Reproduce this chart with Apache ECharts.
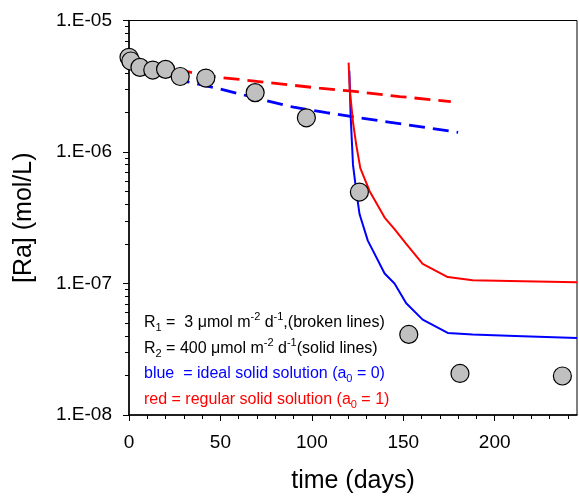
<!DOCTYPE html>
<html>
<head>
<meta charset="utf-8">
<script src="https://cdn.jsdelivr.net/npm/echarts@6/dist/echarts.min.js"></script>
<style>
html,body{margin:0;padding:0;background:#fff;}
#chart{width:579px;height:499px;}
</style>
</head>
<body>
<div id="chart"></div>
<script>
// ---- Data ----
const obsDays = [0, 1, 6, 13, 20, 28, 42, 69, 97, 126, 153, 181, 237];
const obsRa = [5.25e-6, 4.92e-6, 4.4e-6, 4.2e-6, 4.25e-6, 3.75e-6, 3.65e-6, 2.83e-6, 1.82e-6, 4.96e-7, 4.1e-8, 2.07e-8, 1.98e-8];

const redDashDays = [0, 34, 50, 79, 104, 122, 148, 176];
const redDashRa = [4.9e-6, 4.03e-6, 3.69e-6, 3.34e-6, 3.06e-6, 2.90e-6, 2.64e-6, 2.42e-6];

const blueDashDays = [0, 32, 50, 75, 90, 108, 126, 142, 180];
const blueDashRa = [4.9e-6, 3.42e-6, 3.01e-6, 2.46e-6, 2.19e-6, 1.99e-6, 1.82e-6, 1.69e-6, 1.41e-6];

const redSolidDays = [120.1, 120.7, 122.5, 124.3, 126.5, 131.6, 139.8, 145.2, 151.6, 160.6, 174.3, 187.9, 215.2, 245];
const redSolidRa = [4.78e-6, 3.01e-6, 1.69e-6, 1.13e-6, 7.54e-7, 5.03e-7, 3.17e-7, 2.59e-7, 2.0e-7, 1.41e-7, 1.12e-7, 1.06e-7, 1.04e-7, 1.02e-7];

const blueSolidDays = [120.5, 121.2, 122.5, 124.3, 126.1, 130.6, 139.8, 145.2, 151.6, 160.6, 174.3, 187.9, 215.2, 245];
const blueSolidRa = [4.14e-6, 1.90e-6, 7.98e-7, 5.03e-7, 3.36e-7, 2.12e-7, 1.19e-7, 1.0e-7, 7.08e-8, 5.31e-8, 4.21e-8, 4.09e-8, 3.97e-8, 3.85e-8];

const xMajorTicks = [0, 50, 100, 150, 200];
const xMinorTicks = [10, 20, 30, 40, 60, 70, 80, 90, 110, 120, 130, 140, 160, 170, 180, 190, 210, 220, 230, 240];
const yDecades = [-8, -7, -6];
const yMinorMultipliers = [2, 3, 4, 5, 6, 7, 8, 9];

const legendLines = [
  {text: '{a|R}{s|1}{a| =  3 μmol m}{p|-2}{a| d}{p|-1}{a|,(broken lines)}', color: '#000000'},
  {text: '{a|R}{s|2}{a| = 400 μmol m}{p|-2}{a| d}{p|-1}{a|(solid lines)}', color: '#000000'},
  {text: '{a|blue  = ideal solid solution (a}{s|0}{a| = 0)}', color: '#0000ff'},
  {text: '{a|red = regular solid solution (a}{s|0}{a| = 1)}', color: '#ff0000'}
];

// ---- Build ----
const FONT = "'Liberation Sans', Arial, sans-serif";
const pairs = (xs, ys) => xs.map((x, i) => [x, ys[i]]);
const yMinorLog = [];
yDecades.forEach(d => yMinorMultipliers.forEach(m => yMinorLog.push(Math.log10(m * Math.pow(10, d)))));

function fmtExp(v) {
  const e = Math.round(Math.log10(v));
  return '1.E' + (e < 0 ? '-' : '+') + String(Math.abs(e)).padStart(2, '0');
}

function richFor(color) {
  return {
    a: {fontSize: 16, fontFamily: FONT, lineHeight: 22, verticalAlign: 'middle', fill: color},
    s: {fontSize: 11, fontFamily: FONT, lineHeight: 11, verticalAlign: 'bottom', fill: color},
    p: {fontSize: 11, fontFamily: FONT, lineHeight: 11, verticalAlign: 'top', fill: color}
  };
}
const legendY = [322.7, 348.3, 373.3, 399.3];

const chart = echarts.init(document.getElementById('chart'), null, {renderer: 'canvas'});
chart.setOption({
  animation: false,
  backgroundColor: '#ffffff',
  grid: {left: 129, top: 20.5, width: 448, height: 399, show: true, borderColor: '#000', borderWidth: 1, backgroundColor: 'transparent'},
  xAxis: [{
    type: 'value', min: 0, max: 245, position: 'bottom',
    axisLine: {show: true, lineStyle: {color: '#000', width: 1.5}},
    axisTick: {show: true, length: 6, customValues: xMajorTicks, lineStyle: {color: '#000', width: 1}},
    axisLabel: {show: true, customValues: xMajorTicks, fontSize: 19, fontFamily: FONT, color: '#000', margin: 18},
    splitLine: {show: false},
    name: 'time (days)', nameLocation: 'middle', nameGap: 54,
    nameTextStyle: {fontSize: 25, fontFamily: FONT, color: '#000'}
  }, {
    type: 'value', min: 0, max: 245, position: 'bottom',
    axisLine: {show: false},
    axisTick: {show: true, length: 4, customValues: xMinorTicks, lineStyle: {color: '#000', width: 1}},
    axisLabel: {show: false},
    splitLine: {show: false}
  }],
  yAxis: [{
    type: 'log', logBase: 10, min: 1e-8, max: 1e-5, position: 'left',
    axisLine: {show: true, lineStyle: {color: '#000', width: 1.5}},
    axisTick: {show: true, length: 6, lineStyle: {color: '#000', width: 1}},
    axisLabel: {show: true, formatter: fmtExp, fontSize: 19, fontFamily: FONT, color: '#000', margin: 17},
    splitLine: {show: false}, minorTick: {show: false},
    name: '[Ra] (mol/L)', nameLocation: 'middle', nameGap: 92,
    nameTextStyle: {fontSize: 25, fontFamily: FONT, color: '#000'}
  }, {
    type: 'value', min: -8, max: -5, position: 'left',
    axisLine: {show: false},
    axisTick: {show: true, length: 4, customValues: yMinorLog, lineStyle: {color: '#000', width: 1}},
    axisLabel: {show: false},
    splitLine: {show: false}
  }],
  graphic: legendLines.map((l, i) => ({
    type: 'text', x: 144, y: legendY[i], z: 100,
    style: {text: l.text, rich: richFor(l.color), fill: l.color, font: '16px ' + FONT, verticalAlign: 'middle', align: 'left'}
  })),
  series: [
    {type: 'line', name: 'R1 regular', data: pairs(redDashDays, redDashRa), showSymbol: false, symbol: 'none',
     lineStyle: {color: '#ff0000', width: 2.8, type: [16, 8]}, z: 2},
    {type: 'line', name: 'R1 ideal', data: pairs(blueDashDays, blueDashRa), showSymbol: false, symbol: 'none',
     lineStyle: {color: '#0000ff', width: 2.8, type: [16, 8]}, z: 2},
    {type: 'line', name: 'R2 ideal', data: pairs(blueSolidDays, blueSolidRa), showSymbol: false, symbol: 'none',
     lineStyle: {color: '#0000ff', width: 2}, z: 3},
    {type: 'line', name: 'R2 regular', data: pairs(redSolidDays, redSolidRa), showSymbol: false, symbol: 'none',
     lineStyle: {color: '#ff0000', width: 2}, z: 3},
    {type: 'scatter', name: 'observed', data: pairs(obsDays, obsRa), symbol: 'circle', symbolSize: 18,
     itemStyle: {color: '#c0c0c0', borderColor: '#000', borderWidth: 1.2, opacity: 1}, z: 5}
  ]
});
</script>
</body>
</html>
